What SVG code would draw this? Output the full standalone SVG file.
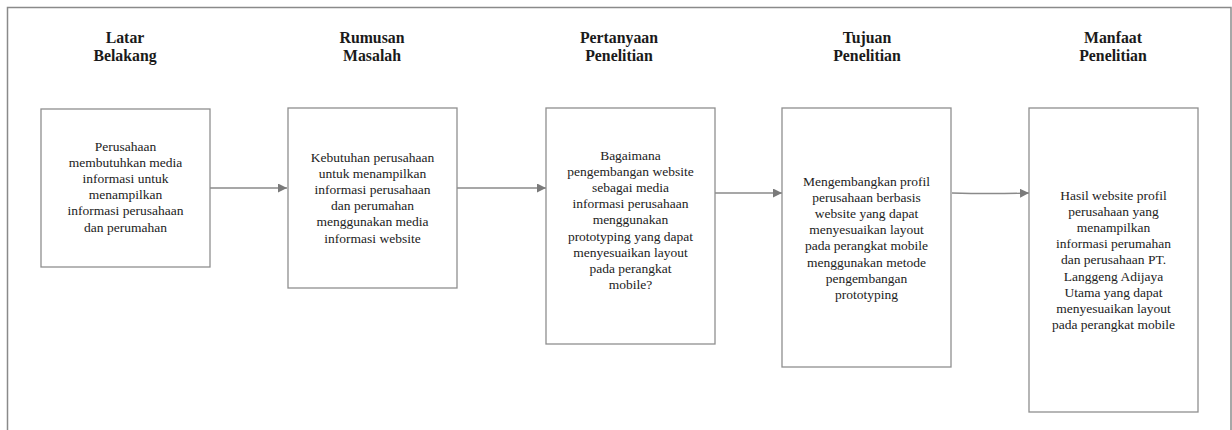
<svg xmlns="http://www.w3.org/2000/svg" width="1232" height="430" viewBox="0 0 1232 430">
<defs>
<style>
.bg{fill:#ffffff}
.frame{fill:none;stroke:#8a8a8a;stroke-width:1.5}
.box{fill:#ffffff;stroke:#8f8f8f;stroke-width:1.3}
.head{font-family:"Liberation Serif","Times New Roman",serif;font-weight:bold;font-size:15.8px;fill:#1a1a1a;text-anchor:middle}
.body{font-family:"Liberation Serif","Times New Roman",serif;font-size:13.5px;fill:#222222;text-anchor:middle}
.conn{fill:none;stroke:#8a8a8a;stroke-width:1.3}
</style>
<marker id="arr" viewBox="0 0 10 10" refX="10" refY="5" markerWidth="9" markerHeight="9" markerUnits="userSpaceOnUse" orient="auto">
<path d="M0,0 L10,5 L0,10 Z" fill="#7a7a7a"/>
</marker>
</defs>
<rect class="bg" x="0" y="0" width="1232" height="430"/>
<path class="frame" d="M7.5,430 V7.5 H1231 V430"/>

<g id="headings">
<text class="head" x="125" y="42.5">Latar</text>
<text class="head" x="125" y="60.5">Belakang</text>
<text class="head" x="372" y="42.5">Rumusan</text>
<text class="head" x="372" y="60.5">Masalah</text>
<text class="head" x="619" y="42.5">Pertanyaan</text>
<text class="head" x="619" y="60.5">Penelitian</text>
<text class="head" x="867" y="42.5">Tujuan</text>
<text class="head" x="867" y="60.5">Penelitian</text>
<text class="head" x="1113" y="42.5">Manfaat</text>
<text class="head" x="1113" y="60.5">Penelitian</text>
</g>

<g id="connectors">
<line class="conn" x1="210" y1="188" x2="287" y2="188" marker-end="url(#arr)"/>
<line class="conn" x1="457" y1="188" x2="546" y2="188" marker-end="url(#arr)"/>
<line class="conn" x1="715" y1="193" x2="782" y2="193" marker-end="url(#arr)"/>
<path class="conn" d="M952,193 Q990,194 1029,193" marker-end="url(#arr)"/>
</g>

<g id="node-latar">
<rect class="box" x="41" y="109" width="169" height="158"/>
<text class="body" x="125.5" y="150.5">Perusahaan</text>
<text class="body" x="125.5" y="166.7">membutuhkan media</text>
<text class="body" x="125.5" y="182.9">informasi untuk</text>
<text class="body" x="125.5" y="199.1">menampilkan</text>
<text class="body" x="125.5" y="215.3">informasi perusahaan</text>
<text class="body" x="125.5" y="231.5">dan perumahan</text>
</g>

<g id="node-rumusan">
<rect class="box" x="288" y="108" width="169" height="180"/>
<text class="body" x="372.5" y="161.5">Kebutuhan perusahaan</text>
<text class="body" x="372.5" y="177.7">untuk menampilkan</text>
<text class="body" x="372.5" y="193.9">informasi perusahaan</text>
<text class="body" x="372.5" y="210.1">dan perumahan</text>
<text class="body" x="372.5" y="226.3">menggunakan media</text>
<text class="body" x="372.5" y="242.5">informasi website</text>
</g>

<g id="node-pertanyaan">
<rect class="box" x="546" y="108" width="169" height="236"/>
<text class="body" x="630.5" y="159.5">Bagaimana</text>
<text class="body" x="630.5" y="175.7">pengembangan website</text>
<text class="body" x="630.5" y="191.9">sebagai media</text>
<text class="body" x="630.5" y="208.1">informasi perusahaan</text>
<text class="body" x="630.5" y="224.3">menggunakan</text>
<text class="body" x="630.5" y="240.5">prototyping yang dapat</text>
<text class="body" x="630.5" y="256.7">menyesuaikan layout</text>
<text class="body" x="630.5" y="272.9">pada perangkat</text>
<text class="body" x="630.5" y="289.1">mobile?</text>
</g>

<g id="node-tujuan">
<rect class="box" x="782" y="108" width="169" height="259"/>
<text class="body" x="866.5" y="185.5">Mengembangkan profil</text>
<text class="body" x="866.5" y="201.7">perusahaan berbasis</text>
<text class="body" x="866.5" y="217.9">website yang dapat</text>
<text class="body" x="866.5" y="234.1">menyesuaikan layout</text>
<text class="body" x="866.5" y="250.3">pada perangkat mobile</text>
<text class="body" x="866.5" y="266.5">menggunakan metode</text>
<text class="body" x="866.5" y="282.7">pengembangan</text>
<text class="body" x="866.5" y="298.9">prototyping</text>
</g>

<g id="node-manfaat">
<rect class="box" x="1029" y="108" width="169" height="304"/>
<text class="body" x="1113.5" y="199.5">Hasil website profil</text>
<text class="body" x="1113.5" y="215.7">perusahaan yang</text>
<text class="body" x="1113.5" y="231.9">menampilkan</text>
<text class="body" x="1113.5" y="248.1">informasi perumahan</text>
<text class="body" x="1113.5" y="264.3">dan perusahaan PT.</text>
<text class="body" x="1113.5" y="280.5">Langgeng Adijaya</text>
<text class="body" x="1113.5" y="296.7">Utama yang dapat</text>
<text class="body" x="1113.5" y="312.9">menyesuaikan layout</text>
<text class="body" x="1113.5" y="329.1">pada perangkat mobile</text>
</g>
</svg>
